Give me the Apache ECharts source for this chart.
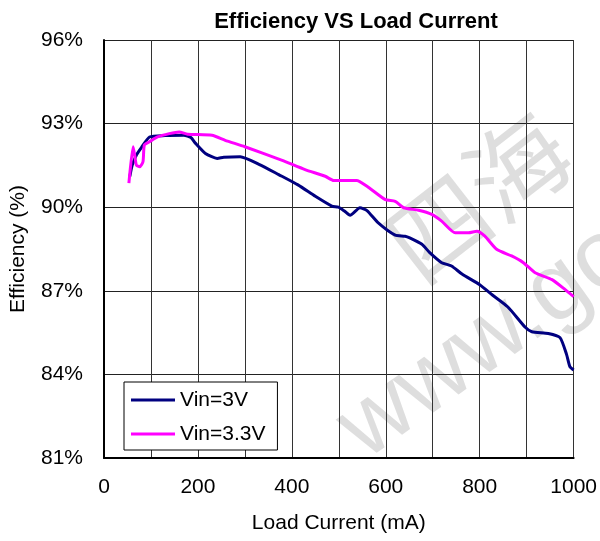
<!DOCTYPE html>
<html>
<head>
<meta charset="utf-8">
<script src="https://cdn.jsdelivr.net/npm/echarts@6/dist/echarts.min.js"></script>
<style>
  html, body { margin: 0; padding: 0; background: #fff; }
  #main { width: 600px; height: 541px; }
</style>
</head>
<body>
<div id="main"></div>
<script>
// load current (mA) and efficiency (%)
var load3V = [55, 60, 69, 80, 97, 130, 170, 185, 195, 216, 241, 255, 290, 330, 372, 413, 450, 485, 499, 512, 524, 545, 560, 584, 620, 641, 651, 677, 693, 719, 740, 763, 800, 827, 860, 897, 911, 946, 971, 985, 992, 1000];
var eff3V = [91.1, 91.5, 91.87, 92.15, 92.52, 92.57, 92.58, 92.5, 92.29, 91.93, 91.75, 91.79, 91.81, 91.54, 91.17, 90.8, 90.39, 90.04, 90.0, 89.86, 89.71, 89.98, 89.88, 89.44, 89.0, 88.96, 88.9, 88.67, 88.38, 88.01, 87.89, 87.59, 87.22, 86.85, 86.42, 85.69, 85.53, 85.47, 85.32, 84.71, 84.28, 84.16];

var load33V = [53, 62, 66, 69, 76, 83, 86, 97, 114, 139, 160, 178, 230, 258, 300, 378, 428, 471, 489, 538, 560, 599, 620, 638, 670, 698, 719, 748, 776, 794, 811, 836, 868, 893, 918, 954, 982, 1000];
var eff33V = [90.86, 92.17, 91.8, 91.51, 91.45, 91.63, 92.23, 92.35, 92.52, 92.64, 92.70, 92.62, 92.58, 92.40, 92.17, 91.69, 91.35, 91.11, 90.96, 90.96, 90.75, 90.27, 90.21, 89.98, 89.89, 89.74, 89.5, 89.08, 89.08, 89.14, 88.96, 88.49, 88.25, 88.01, 87.65, 87.40, 87.04, 86.79];

var seriesNames = ['Vin=3V', 'Vin=3.3V'];

function pairs(xs, ys) {
  var arr = [];
  for (var i = 0; i < xs.length; i++) {
    arr.push([xs[i], ys[i]]);
  }
  return arr;
}

var chart = echarts.init(document.getElementById('main'));
var font = '"Liberation Sans", Arial, sans-serif';

var option = {
  animation: false,
  backgroundColor: '#fff',
  title: {
    text: 'Efficiency VS Load Current',
    left: 351,
    top: 6,
    textAlign: 'center',
    textStyle: { fontFamily: font, fontSize: 22, fontWeight: 'bold', color: '#000' }
  },
  // watermark, sits behind the plot
  graphic: [
    {
      type: 'text', z: -10, left: 368, top: 96, rotation: 0.66,
      style: { text: '四海', font: '100px "Noto Sans CJK SC"', fill: 'rgba(200,200,200,0.6)' }
    },
    {
      type: 'text', z: -10, left: 322, top: 205, rotation: 0.62,
      style: { text: 'www.go', font: '96px "Liberation Sans"', fill: 'rgba(200,200,200,0.6)' }
    }
  ],
  grid: { left: 104, right: 25, top: 40, bottom: 83 },
  legend: {
    orient: 'vertical',
    left: 124,
    top: 382,
    data: seriesNames,
    icon: 'rect',
    itemWidth: 44,
    itemHeight: 3,
    itemGap: 12,
    padding: [7, 12, 5, 7],
    borderColor: '#000',
    borderWidth: 1,
    backgroundColor: '#fff',
    textStyle: { fontFamily: font, fontSize: 21, color: '#000', lineHeight: 22 }
  },
  xAxis: {
    type: 'value',
    min: 0,
    max: 1000,
    interval: 100,
    name: 'Load Current (mA)',
    nameLocation: 'middle',
    nameGap: 55,
    nameTextStyle: { fontFamily: font, fontSize: 21, color: '#000' },
    axisLine: { lineStyle: { color: '#000', width: 2 } },
    axisTick: { show: false },
    axisLabel: {
      margin: 19,
      fontFamily: font,
      fontSize: 21,
      color: '#000',
      formatter: function (v) { return v % 200 === 0 ? String(v) : ''; }
    },
    splitLine: { show: true, lineStyle: { color: '#333', width: 1 } }
  },
  yAxis: {
    type: 'value',
    min: 81,
    max: 96,
    interval: 3,
    name: 'Efficiency (%)',
    nameLocation: 'middle',
    nameGap: 75,
    nameTextStyle: { fontFamily: font, fontSize: 21, color: '#000' },
    axisLine: { show: true, lineStyle: { color: '#000', width: 2 } },
    axisTick: { show: false },
    axisLabel: { margin: 21, fontFamily: font, fontSize: 21, color: '#000', formatter: '{value}%' },
    splitLine: { show: true, lineStyle: { color: '#222', width: 1 } }
  },
  series: [
    {
      name: seriesNames[0],
      type: 'line',
      data: pairs(load3V, eff3V),
      showSymbol: false,
      smooth: 0.2,
      color: '#000080',
      lineStyle: { width: 3, color: '#000080' }
    },
    {
      name: seriesNames[1],
      type: 'line',
      data: pairs(load33V, eff33V),
      showSymbol: false,
      smooth: 0.2,
      color: '#ff00ff',
      lineStyle: { width: 3, color: '#ff00ff' }
    }
  ]
};

chart.setOption(option);
</script>
</body>
</html>
